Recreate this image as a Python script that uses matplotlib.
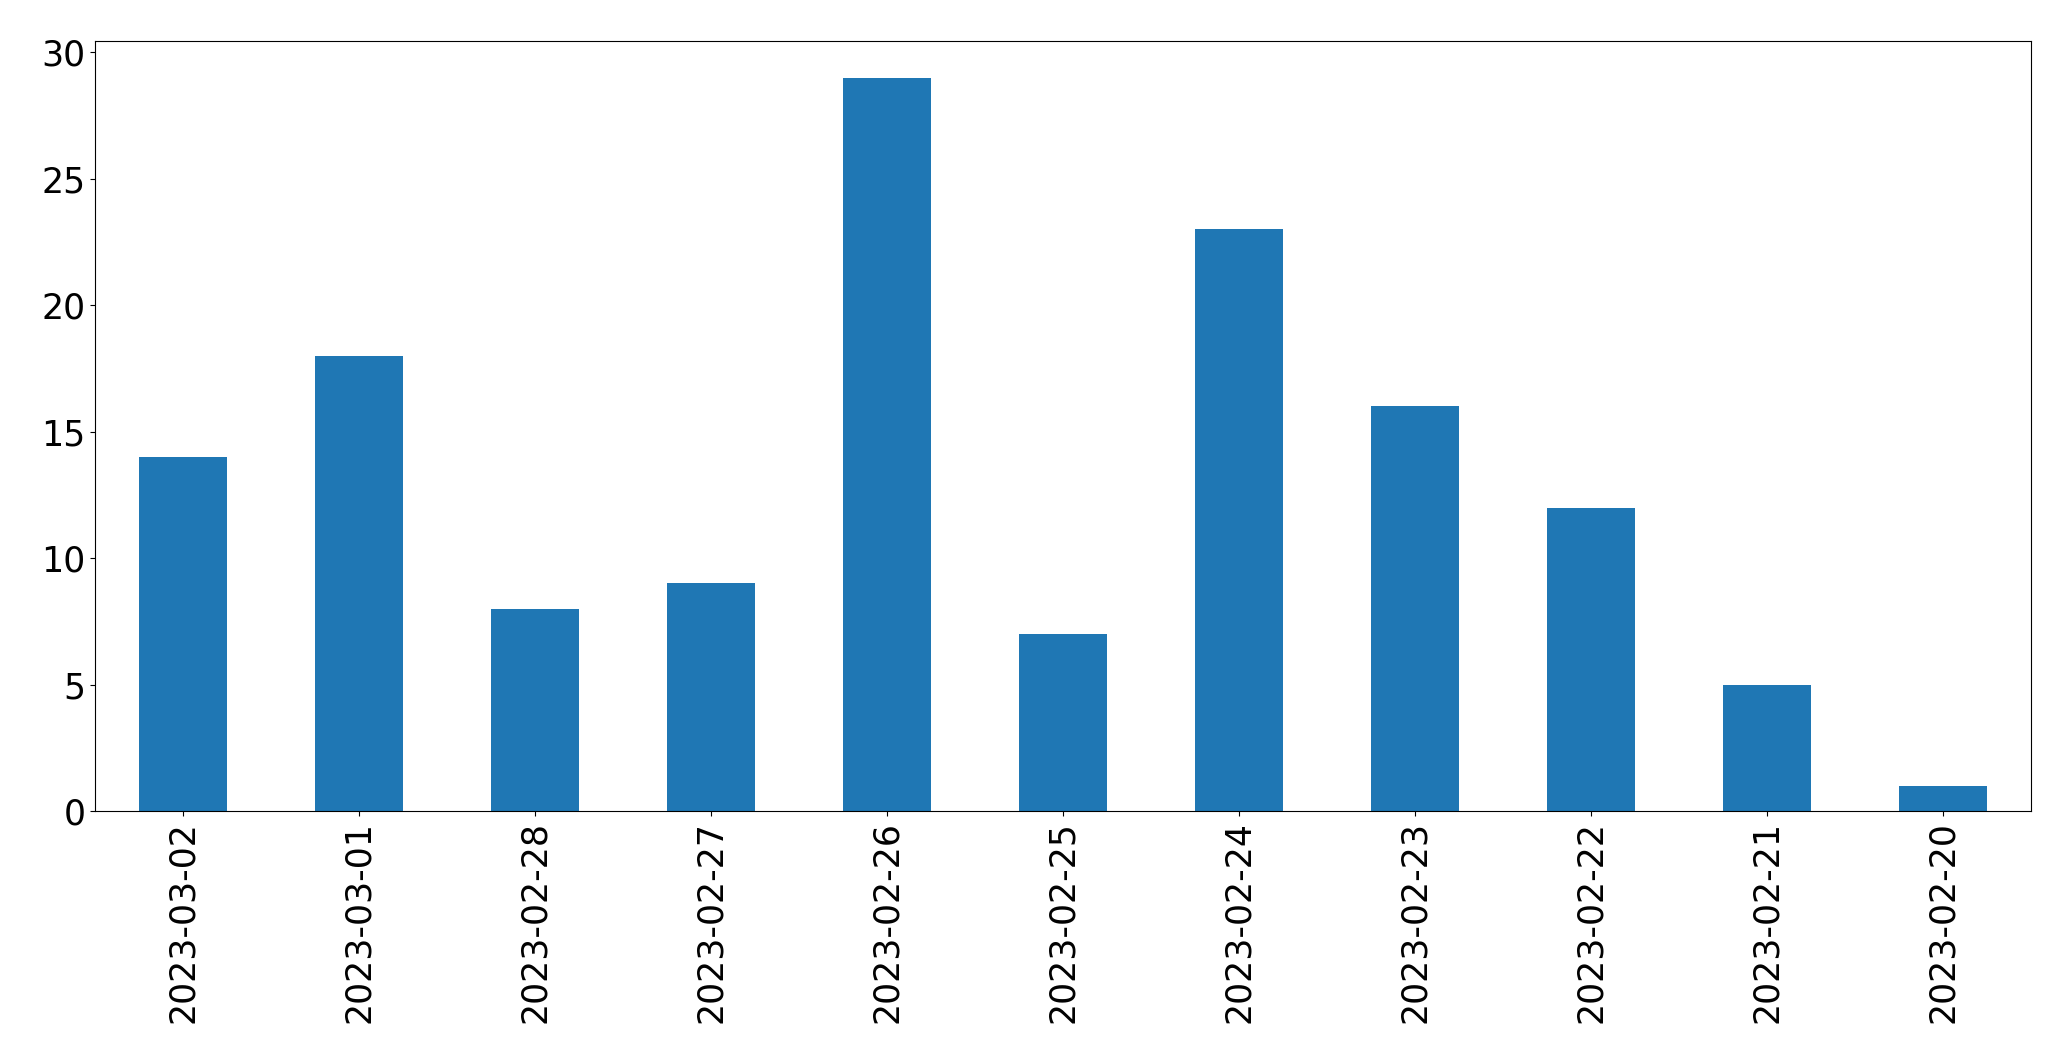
import matplotlib
matplotlib.use("Agg")
import matplotlib.pyplot as plt

dates = ["2023-03-02", "2023-03-01", "2023-02-28", "2023-02-27", "2023-02-26",
         "2023-02-25", "2023-02-24", "2023-02-23", "2023-02-22", "2023-02-21",
         "2023-02-20"]
counts = [14, 18, 8, 9, 29, 7, 23, 16, 12, 5, 1]

fig = plt.figure(figsize=(20.71, 10.63), dpi=100)
ax = fig.add_axes([95/2071, 1 - 811/1063, (2031-95)/2071, (811-41)/1063])
x = list(range(len(dates)))
ax.bar(x, counts, width=0.5, color="#1f77b4")
ax.set_xlim(-0.5, len(dates) - 0.5)
ax.set_ylim(0, max(counts) * 1.05)
ax.set_xticks(x)
ax.set_xticklabels(dates, rotation=90)
ax.set_yticks([0, 5, 10, 15, 20, 25, 30])
ax.tick_params(labelsize=25)
fig.savefig("out.png", dpi=100)
